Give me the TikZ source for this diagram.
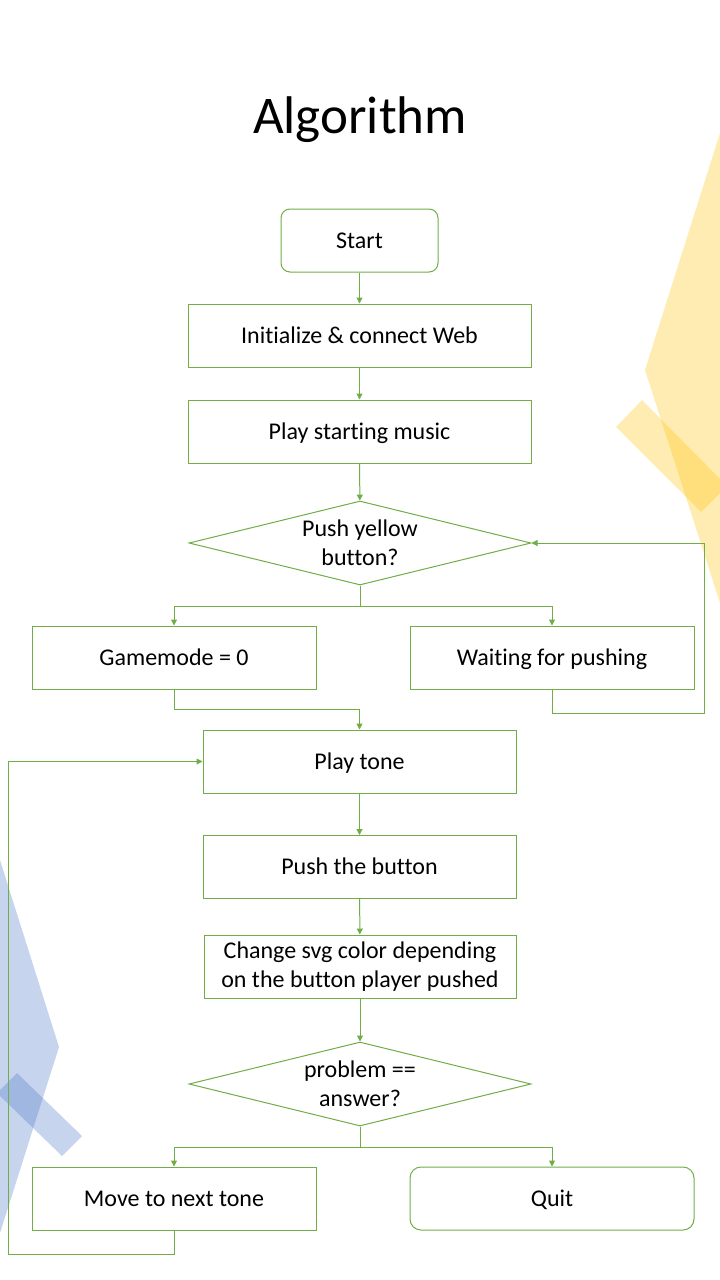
\documentclass[tikz,border=0pt]{standalone}
\usepackage{fontspec}
\setmainfont{Carlito}[Ligatures=NoCommon]
\usepackage{tikz}
\usetikzlibrary{shapes.geometric,arrows.meta}
\definecolor{lgreen}{HTML}{70AD47}
\definecolor{decoyellow}{HTML}{FFC000}
\definecolor{decoblue}{HTML}{4472C4}
\tikzset{>={Triangle[length=6pt,width=6pt]}}
\tikzset{
  plainbox/.style={draw=lgreen, line width=1pt, minimum width=343pt, minimum height=63pt, inner sep=0pt, font=\fontsize{24}{29}\selectfont, align=center},
  box/.style={plainbox, text height=18pt, text depth=3pt},
  sbox/.style={box, minimum width=284pt},
  roundbox/.style={box, rounded corners=9pt},
  ask/.style={draw=lgreen, line width=1pt, diamond, aspect=4.07, minimum width=342pt, minimum height=84pt, inner sep=0pt, font=\fontsize{24}{29}\selectfont, align=center},
  link/.style={->, draw=lgreen, line width=1pt}
}

\begin{document}
\begin{tikzpicture}[x=1pt,y=-1pt]
    \useasboundingbox (0,0) rectangle (720,1280);

    % background shapes
    \begin{scope}
      \clip (0,0) rectangle (720,1280);
      \fill[decoyellow, opacity=0.3] (720,133)--(645,370)--(720,603)--(760,603)--(760,133)--cycle;
      \fill[decoyellow, opacity=0.3] (616,427)--(642,400)--(727,486)--(701,512)--cycle;
      \fill[decoblue, opacity=0.3] (0,860)--(59,1047)--(0,1233)--(-40,1233)--(-40,860)--cycle;
      \fill[decoblue, opacity=0.3] (-3,1093)--(17,1073)--(82,1136)--(62,1156)--cycle;
    \end{scope}

    \node[anchor=base, font=\fontsize{53}{60}\selectfont] at (360,133) (title) {Algorithm};

    \node[roundbox, minimum width=157pt] at (359.5,240.5) (start) {Start};
    \node[box] at (359.5,335.5) (init) {Initialize \& connect Web};
    \node[box] at (359.5,431.5) (music) {Play starting music};
    \node[ask] at (360,543) (yellow) {Push yellow\\button?};
    \node[sbox] at (174,657.5) (mode) {Gamemode = 0};
    \node[sbox] at (552,657.5) (wait) {Waiting for pushing};
    \node[box, minimum width=313pt] at (359.5,761.5) (tone) {Play tone};
    \node[box, minimum width=313pt] at (359.5,867) (push) {Push the button};
    \node[plainbox, minimum width=312pt] at (360,966.5) (svg) {Change svg color depending\\on the button player pushed};
    \node[ask] at (360,1084) (check) {problem ==\\answer?};
    \node[sbox] at (174,1198.5) (next) {Move to next tone};
    \node[sbox, rounded corners=11pt] at (552,1198.5) (quit) {Quit};

    \coordinate (loopA) at (704,713);
    \coordinate (loopB) at (8,1254);

    \draw[link] (start) -- (init);
    \draw[link] (init) -- (music);
    \draw[link] (music) -- (yellow);
    \draw[link] (yellow.south) -- ++(0,21) -| (mode.north);
    \draw[link] (yellow.south) -- ++(0,21) -| (wait.north);
    \draw[link] (wait.south) |- (loopA) |- (yellow.east);
    \draw[link] (mode.south) -- ++(0,20) -| (tone.north);
    \draw[link] (tone) -- (push);
    \draw[link] (push) -- (svg);
    \draw[link] (svg) -- (check);
    \draw[link] (check.south) -- ++(0,21) -| (next.north);
    \draw[link] (check.south) -- ++(0,21) -| (quit.north);
    \draw[link] (next.south) |- (loopB) |- (tone.west);
\end{tikzpicture}
\end{document}
